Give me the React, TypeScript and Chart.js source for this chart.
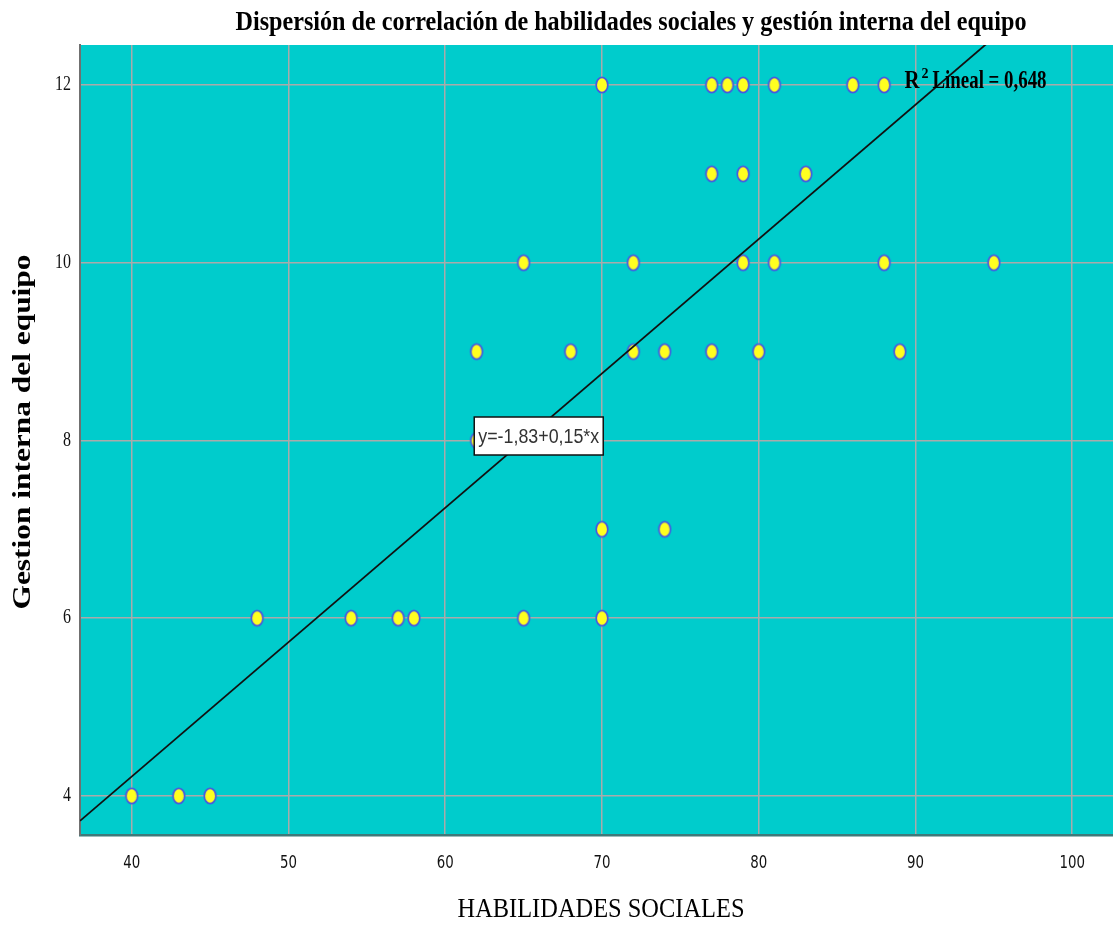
import React, { useEffect, useRef } from "react";
import { Chart, registerables } from "chart.js";

Chart.register(...registerables);

const habilidades = [
  70, 77, 78, 79, 81, 86, 88,
  77, 79, 83,
  65, 72, 79, 81, 88, 95,
  62, 68, 72, 74, 77, 80, 89,
  62,
  70, 74,
  48, 54, 57, 58, 65, 70,
  40, 43, 45,
];
const gestion = [
  12, 12, 12, 12, 12, 12, 12,
  11, 11, 11,
  10, 10, 10, 10, 10, 10,
  9, 9, 9, 9, 9, 9, 9,
  8,
  7, 7,
  6, 6, 6, 6, 6, 6,
  4, 4, 4,
];
const xTicks = [40, 50, 60, 70, 80, 90, 100];
const yTicks = [4, 6, 8, 10, 12];
const intercept = -1.83;
const slope = 0.1512;
const xMin = 36.7;
const xMax = 102.6;
const yMin = 3.56;
const yMax = 12.45;

const titleText = "Dispersión de correlación de habilidades sociales y gestión interna del equipo";
const xTitle = "HABILIDADES SOCIALES";
const yTitle = "Gestion interna del equipo";
const eqText = "y=-1,83+0,15*x";
const r2Value = "0,648";

function makePointImage() {
  const c = document.createElement("canvas");
  c.width = 16;
  c.height = 20;
  const ctx = c.getContext("2d")!;
  ctx.beginPath();
  ctx.ellipse(8, 10, 5.8, 7.6, 0, 0, Math.PI * 2);
  ctx.fillStyle = "#ffff20";
  ctx.fill();
  ctx.lineWidth = 1.7;
  ctx.strokeStyle = "#4858e0";
  ctx.stroke();
  return c;
}

function drawFitted(ctx: CanvasRenderingContext2D, text: string, x: number, y: number, font: string, width: number, align: "left" | "center" | "right") {
  ctx.save();
  ctx.font = font;
  const w = ctx.measureText(text).width;
  const s = width / w;
  ctx.translate(x, y);
  ctx.scale(s, 1);
  ctx.textAlign = align;
  ctx.fillText(text, 0, 0);
  ctx.restore();
}

export default function App() {
  const ref = useRef<HTMLCanvasElement>(null);
  useEffect(() => {
    if (!ref.current) return;
    const pointImg = makePointImage();

    const decor = {
      id: "decor",
      beforeDraw(chart: any) {
        const { ctx, chartArea } = chart;
        ctx.save();
        ctx.fillStyle = "#ffffff";
        ctx.fillRect(0, 0, chart.width, chart.height);
        ctx.fillStyle = "#00cccc";
        ctx.fillRect(chartArea.left, chartArea.top, chartArea.right - chartArea.left, chartArea.bottom - chartArea.top);
        ctx.restore();
      },
      afterDraw(chart: any) {
        const { ctx, chartArea } = chart;
        const xs = chart.scales.x;
        const ys = chart.scales.y;
        ctx.save();
        ctx.fillStyle = "#000";
        ctx.textBaseline = "middle";
        // title
        drawFitted(ctx, titleText, 631, 23, "bold 27px 'Liberation Serif', serif", 791, "center");
        // x title
        drawFitted(ctx, xTitle, 601, 910, "28px 'Liberation Serif', serif", 287, "center");
        // y title
        ctx.save();
        ctx.translate(24, 432);
        ctx.rotate(-Math.PI / 2);
        drawFitted(ctx, yTitle, 0, 0, "bold 25px 'Liberation Serif', serif", 355, "center");
        ctx.restore();

        // x tick labels
        ctx.fillStyle = "#111";
        for (const v of xTicks) {
          const px = xs.getPixelForValue(v);
          const t = String(v);
          drawFitted(ctx, t, px, chartArea.bottom + 28, "18px 'DejaVu Sans', 'Liberation Sans', sans-serif", t.length * 8.5, "center");
        }
        // y tick labels
        for (const v of yTicks) {
          const py = ys.getPixelForValue(v);
          const t = String(v);
          drawFitted(ctx, t, chartArea.left - 9, py, "20px 'Liberation Serif', serif", t.length * 8, "right");
        }

        // equation label
        const bx = xs.getPixelForValue(61.85);
        const by = ys.getPixelForValue(8.05);
        const w = 129;
        const h = 38;
        ctx.fillStyle = "#fff";
        ctx.fillRect(bx, by - h / 2, w, h);
        ctx.strokeStyle = "#111";
        ctx.lineWidth = 1.5;
        ctx.strokeRect(bx, by - h / 2, w, h);
        ctx.fillStyle = "#333";
        drawFitted(ctx, eqText, bx + 4, by + 1, "20px 'Liberation Sans', sans-serif", 121, "left");

        // R2 label
        const rx = xs.getPixelForValue(89.3);
        const ry = ys.getPixelForValue(12.0);
        ctx.fillStyle = "#000";
        drawFitted(ctx, "R", rx, ry - 3, "bold 25px 'Liberation Serif', serif", 15, "left");
        drawFitted(ctx, "2", rx + 17, ry - 11, "bold 15px 'Liberation Serif', serif", 7, "left");
        drawFitted(ctx, "Lineal = " + r2Value, rx + 28, ry - 3, "bold 25px 'Liberation Serif', serif", 114, "left");
        ctx.restore();
      },
    };

    const chart = new Chart(ref.current, {
      type: "scatter",
      data: {
        datasets: [
          {
            type: "line",
            data: [
              { x: xMin, y: intercept + slope * xMin },
              { x: xMax, y: intercept + slope * xMax },
            ],
            borderColor: "#111",
            borderWidth: 1.8,
            pointRadius: 0,
            order: 0,
          } as any,
          {
            type: "scatter",
            data: habilidades.map((x, i) => ({ x, y: gestion[i] })),
            pointStyle: pointImg as any,
            pointRadius: 7,
            order: 1,
          } as any,
        ],
      },
      options: {
        responsive: false,
        animation: false,
        devicePixelRatio: 1,
        layout: { autoPadding: false, padding: { top: 45, left: 0, right: 0, bottom: 0 } },
        plugins: {
          legend: { display: false },
          tooltip: { enabled: false },
          title: { display: false },
        },
        scales: {
          x: {
            type: "linear",
            min: xMin,
            max: xMax,
            afterBuildTicks: (s: any) => {
              s.ticks = xTicks.map((v) => ({ value: v }));
            },
            afterFit: (s: any) => {
              s.height = 91;
              s.paddingLeft = 0;
              s.paddingRight = 0;
            },
            grid: { color: "#aaaaaa", lineWidth: 1.5, drawTicks: false },
            border: { color: "#3f7a7a", width: 2.5 },
            ticks: { display: true, color: "rgba(0,0,0,0)", padding: 19, font: { size: 14 } },
          },
          y: {
            type: "linear",
            min: yMin,
            max: yMax,
            afterBuildTicks: (s: any) => {
              s.ticks = yTicks.map((v) => ({ value: v }));
            },
            afterFit: (s: any) => {
              s.width = 80;
              s.paddingTop = 0;
              s.paddingBottom = 0;
            },
            grid: { color: "#aaaaaa", lineWidth: 1.5, drawTicks: false },
            border: { color: "#707070", width: 2 },
            ticks: { display: true, color: "rgba(0,0,0,0)", padding: 9, font: { size: 14 } },
          },
        },
      },
      plugins: [decor],
    });
    return () => chart.destroy();
  }, []);

  return (
    <div style={{ position: "fixed", left: 0, top: 0, width: 1113, height: 926, background: "#fff" }}>
      <canvas ref={ref} width={1113} height={926} style={{ display: "block" }} />
    </div>
  );
}
